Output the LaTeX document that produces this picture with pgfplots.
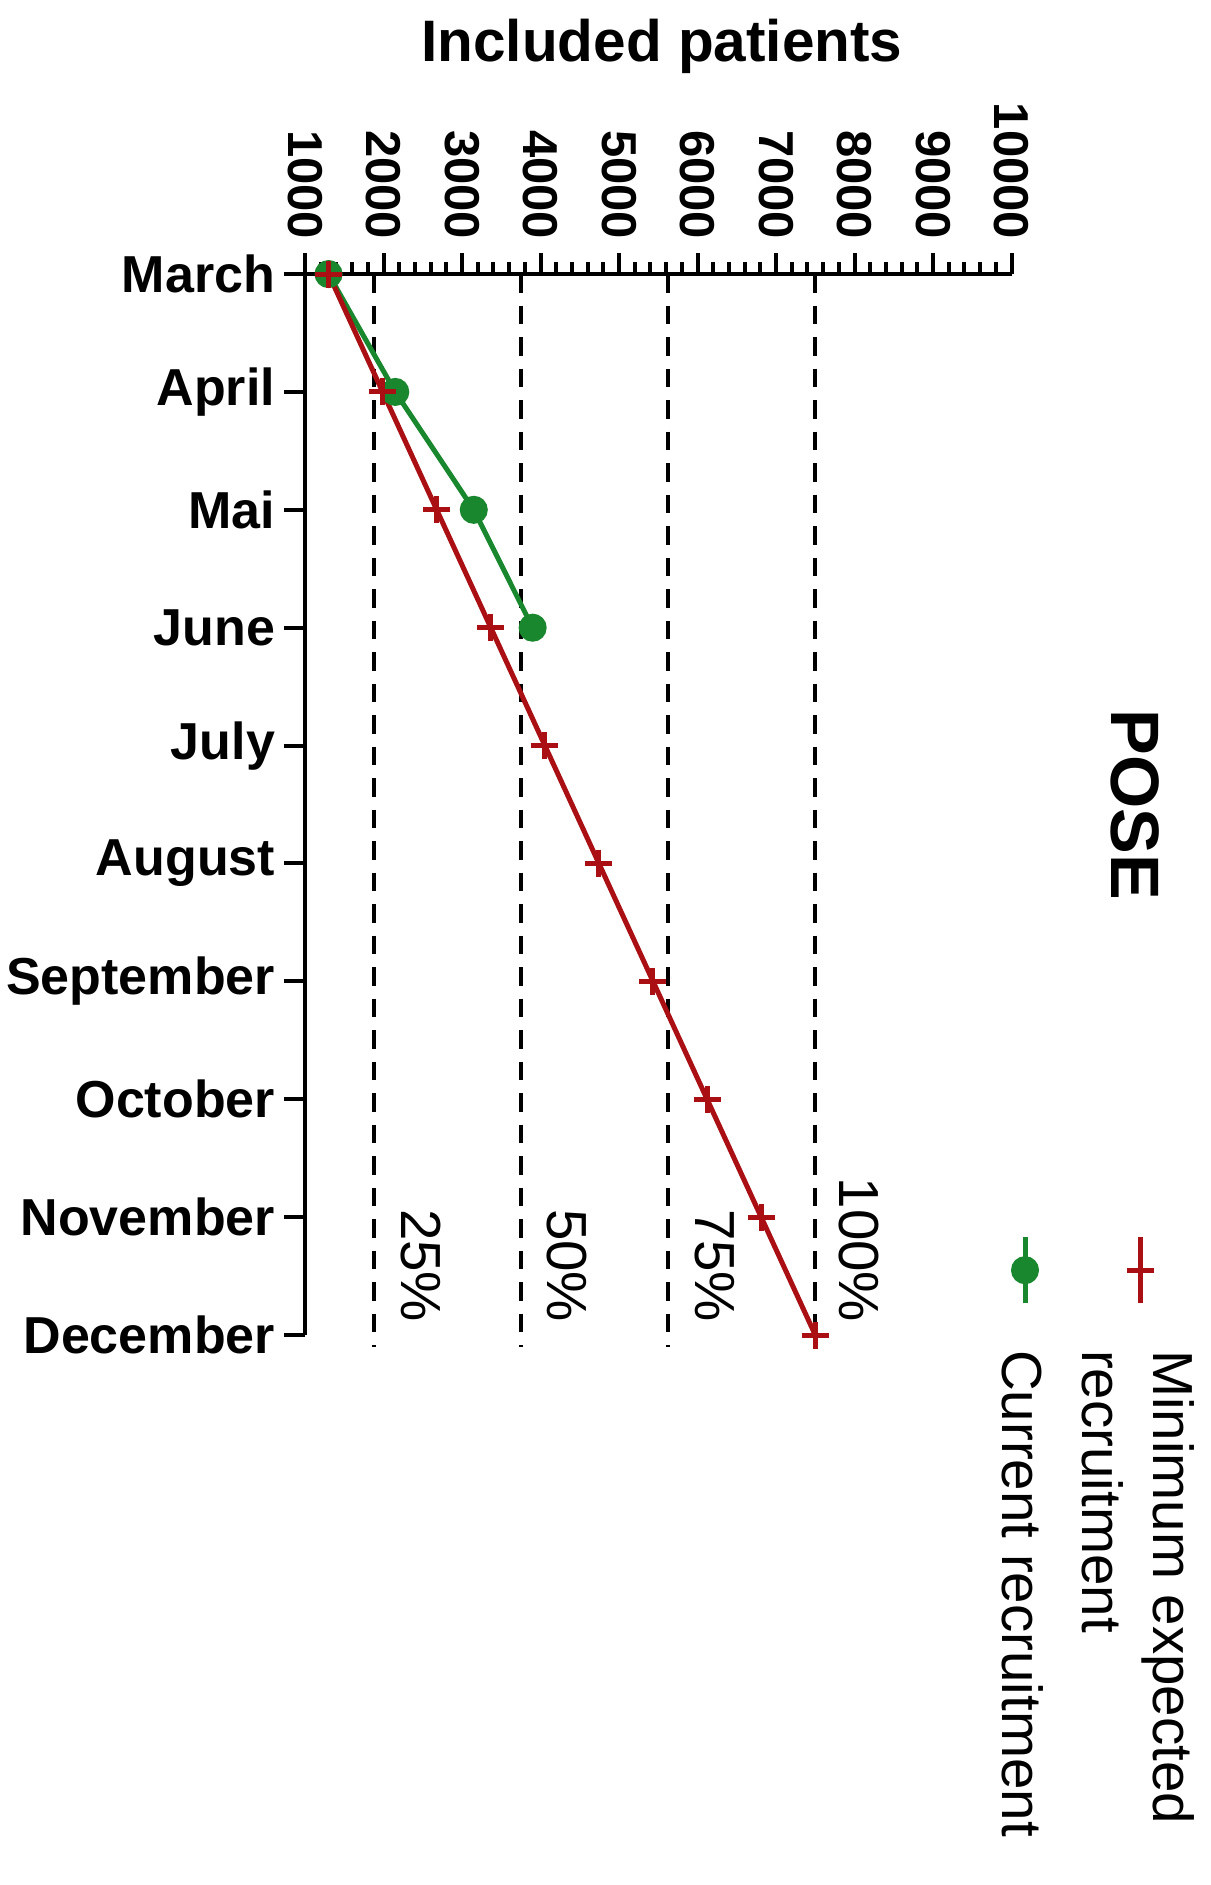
\documentclass[border=0pt]{standalone}
\usepackage{fontspec}
\setmainfont{Liberation Sans}
\usepackage{pgfplots}
\pgfplotsset{compat=1.18}
\definecolor{cred}{RGB}{170,15,20}
\definecolor{cgreen}{RGB}{25,135,45}
\begin{document}
\begin{tikzpicture}
\path[use as bounding box] (-61pt,-110pt) rectangle (181pt,267pt);
\begin{axis}[
  scale only axis,
  width=141.3pt, height=212.2pt,
  xmin=1000, xmax=10000, ymin=-9, ymax=0,
  axis x line*=top, axis y line*=left,
  axis line style={line width=0.8pt},
  clip=false,
  scaled x ticks=false,
  xtick={1000,2000,3000,4000,5000,6000,7000,8000,9000,10000},
  xticklabels={1000,2000,3000,4000,5000,6000,7000,8000,9000,10000},
  minor x tick num=4,
  ytick={-9,-8,-7,-6,-5,-4,-3,-2,-1,0},
  yticklabels={December,November,October,September,August,July,June,Mai,April,March},
  tick align=outside,
  major tick length=4.2pt, minor tick length=2.4pt,
  every tick/.style={black, line width=0.8pt},
  xticklabel style={rotate=-90, anchor=east, inner sep=2.6pt, font=\fontsize{9.8}{11}\selectfont\bfseries},
  yticklabel style={inner sep=1.6pt, font=\fontsize{10.4}{12}\selectfont\bfseries},
]
% dashed reference lines (25%, 50%, 75%, 100% of 7500)
\addplot[black, line width=0.8pt, dash pattern=on 3.7pt off 2.6pt] coordinates {(1875,0) (1875,-9.1)};
\addplot[black, line width=0.8pt, dash pattern=on 3.7pt off 2.6pt] coordinates {(3750,0) (3750,-9.1)};
\addplot[black, line width=0.8pt, dash pattern=on 3.7pt off 2.6pt] coordinates {(5625,0) (5625,-9.1)};
\addplot[black, line width=0.8pt, dash pattern=on 3.7pt off 2.6pt] coordinates {(7500,0) (7500,-9.1)};
% current recruitment
\addplot[cgreen, line width=1pt, mark=*, mark size=2.3pt, mark options={solid, fill=cgreen}]
  coordinates {(1300,0) (2150,-1) (3150,-2) (3900,-3)};
% minimum expected recruitment
\addplot[cred, line width=1pt, mark=+, mark size=2.7pt, mark options={solid, line width=1pt}]
  coordinates {(1300,0) (1989,-1) (2678,-2) (3367,-3) (4056,-4) (4744,-5) (5433,-6) (6122,-7) (6811,-8) (7500,-9)};
% legend samples (drawn in axis units, rotated layout)
\addplot[cgreen, line width=1pt, mark=*, mark size=2.3pt, mark options={solid, fill=cgreen}, mark repeat=2, mark phase=2]
  coordinates {(10172,-8.17) (10172,-8.45) (10172,-8.73)};
\addplot[cred, line width=1pt, mark=+, mark size=2.7pt, mark options={solid, line width=1pt}, mark repeat=2, mark phase=2]
  coordinates {(11637,-8.17) (11637,-8.45) (11637,-8.73)};
\node[rotate=-90, anchor=west, inner sep=0pt, align=left, font=\fontsize{11.3}{14.2}\selectfont] at (axis cs:11618,-9.12) {Minimum expected\\recruitment};
\node[rotate=-90, anchor=west, inner sep=0pt, align=left, font=\fontsize{11.3}{14.2}\selectfont] at (axis cs:10146,-9.12) {Current recruitment};
% percentage labels
\node[rotate=-90, anchor=east, inner sep=0pt, font=\fontsize{11.3}{13}\selectfont] at (axis cs:2473,-8.9) {25\%};
\node[rotate=-90, anchor=east, inner sep=0pt, font=\fontsize{11.3}{13}\selectfont] at (axis cs:4340,-8.9) {50\%};
\node[rotate=-90, anchor=east, inner sep=0pt, font=\fontsize{11.3}{13}\selectfont] at (axis cs:6223,-8.9) {75\%};
\node[rotate=-90, anchor=east, inner sep=0pt, font=\fontsize{11.3}{13}\selectfont] at (axis cs:8057,-8.9) {100\%};
\node[rotate=-90, font=\fontsize{13.7}{16}\selectfont\bfseries] at (axis description cs:1.175,0.5) {POSE};
\node[anchor=base, font=\fontsize{11.7}{14}\selectfont\bfseries] at (axis description cs:0.505,1.2) {Included patients};
\end{axis}
\end{tikzpicture}
\end{document}
